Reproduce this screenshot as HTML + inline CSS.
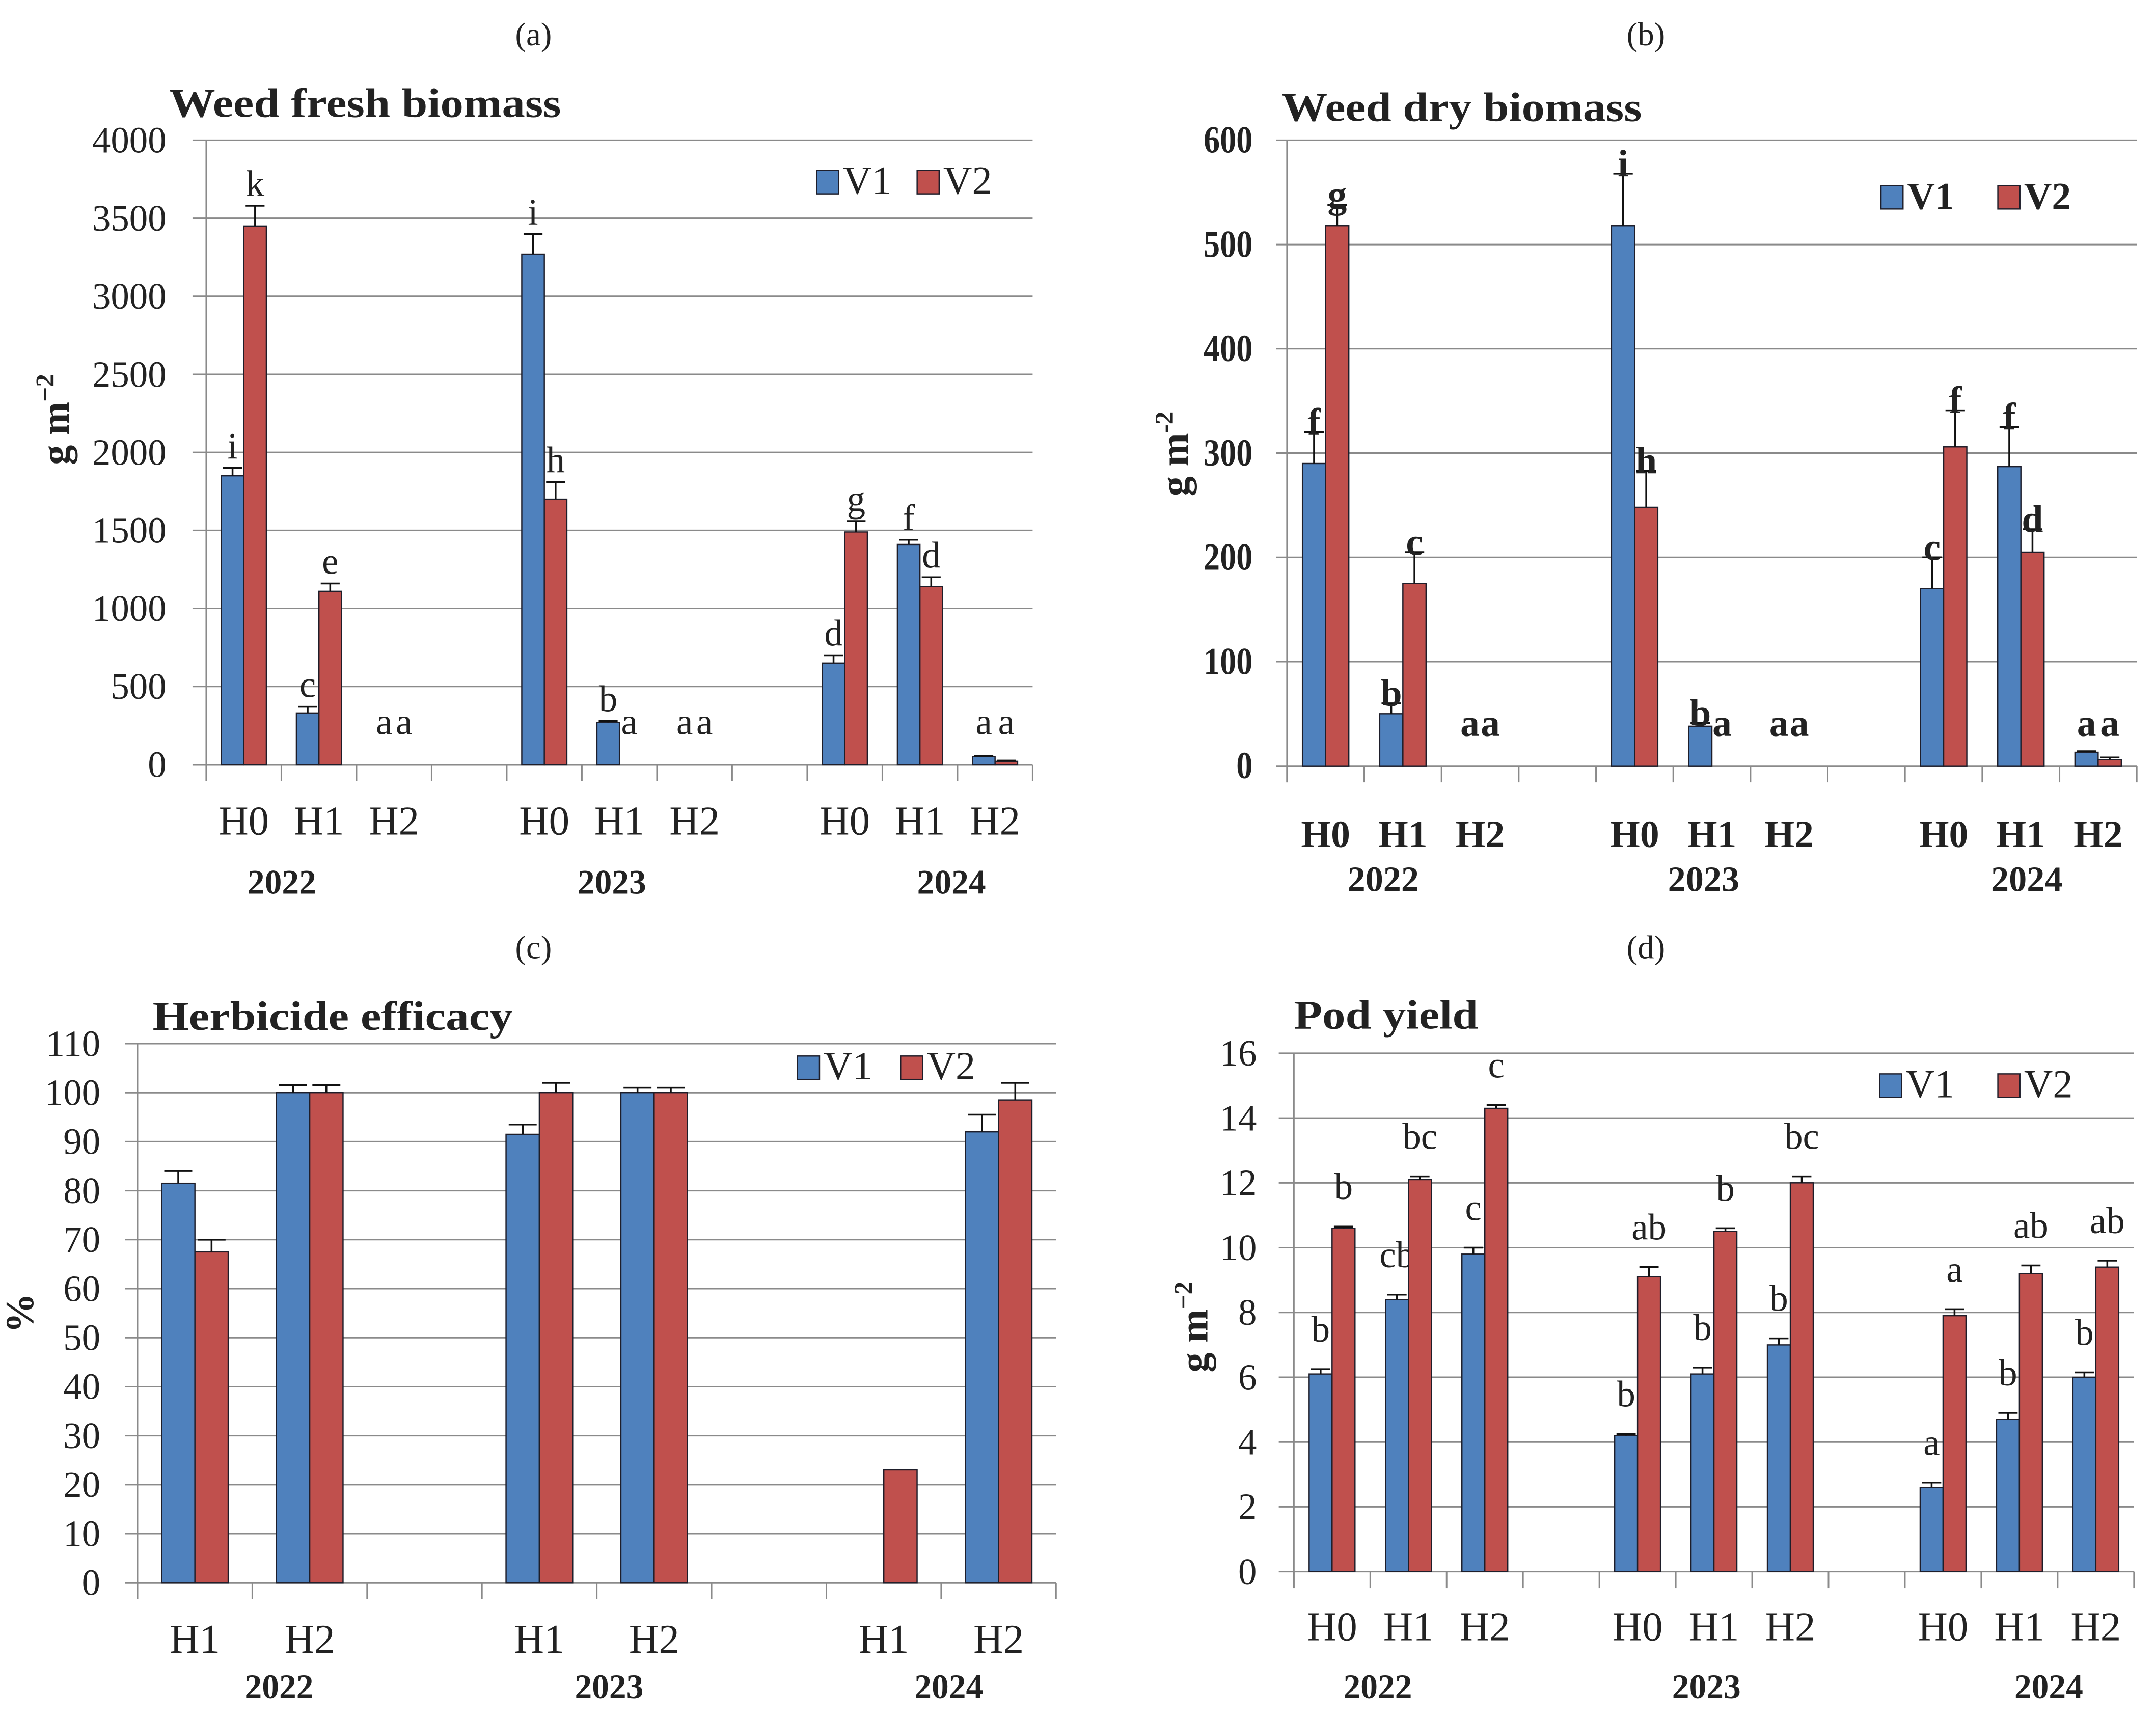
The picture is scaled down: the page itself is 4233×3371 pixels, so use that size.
<!DOCTYPE html>
<html><head><meta charset="utf-8">
<style>
html,body{margin:0;padding:0;background:#fff;}
svg{display:block;}
text{font-family:"Liberation Serif",serif;fill:#222;}
</style></head>
<body>
<svg id="fig" width="4233" height="3371" viewBox="0 0 1568 1248.7" preserveAspectRatio="none" xmlns="http://www.w3.org/2000/svg" font-family="Liberation Serif, serif"></svg>
<script>
// ---- Chart (a) Weed fresh biomass ----
const aCats = ["H0","H1","H2","","H0","H1","H2","","H0","H1","H2"];
const aYears = ["2022","2023","2024"];
const aV1 = [1850,330,0,null,3270,270,0,null,650,1410,50];
const aV2 = [3450,1110,0,null,1700,0,0,null,1490,1140,20];
const aE1 = [50,40,0,null,130,10,0,null,50,30,5];
const aE2 = [130,50,0,null,110,0,0,null,70,60,5];
const aL1 = ["i","c","a","","i","b","a","","d","f","a"];
const aL2 = ["k","e","a","","h","a","a","","g","d","a"];
const aTicks = [0,500,1000,1500,2000,2500,3000,3500,4000];
// ---- Chart (b) Weed dry biomass ----
const bCats = ["H0","H1","H2","","H0","H1","H2","","H0","H1","H2"];
const bYears = ["2022","2023","2024"];
const bV1 = [290,50,0,null,518,38,0,null,170,287,13];
const bV2 = [518,175,0,null,248,0,0,null,306,205,6];
const bE1 = [30,10,0,null,50,3,0,null,30,38,1];
const bE2 = [20,30,0,null,35,0,0,null,35,22,2];
const bL1 = ["f","b","a","","i","b","a","","c","f","a"];
const bL2 = ["g","c","a","","h","a","a","","f","d","a"];
const bTicks = [0,100,200,300,400,500,600];
// ---- Chart (c) Herbicide efficacy ----
const cCats = ["H1","H2","","H1","H2","","H1","H2"];
const cYears = ["2022","2023","2024"];
const cV1 = [81.5,100,null,91.5,100,null,0,92];
const cV2 = [67.5,100,null,100,100,null,23,98.5];
const cE1 = [2.5,1.5,null,2,1,null,0,3.5];
const cE2 = [2.5,1.5,null,2,1,null,0,3.5];
const cTicks = [0,10,20,30,40,50,60,70,80,90,100,110];
// ---- Chart (d) Pod yield ----
const dCats = ["H0","H1","H2","","H0","H1","H2","","H0","H1","H2"];
const dYears = ["2022","2023","2024"];
const dV1 = [6.1,8.4,9.8,null,4.2,6.1,7.0,null,2.6,4.7,6.0];
const dV2 = [10.6,12.1,14.3,null,9.1,10.5,12.0,null,7.9,9.2,9.4];
const dE1 = [0.15,0.15,0.2,null,0.05,0.2,0.2,null,0.15,0.2,0.15];
const dE2 = [0.05,0.1,0.1,null,0.3,0.1,0.2,null,0.2,0.25,0.2];
const dL1 = ["b","cb","c","","b","b","b","","a","b","b"];
const dL2 = ["b","bc","c","","ab","b","bc","","a","ab","ab"];
const dTicks = [0,2,4,6,8,10,12,14,16];

const NS="http://www.w3.org/2000/svg";
const svg=document.getElementById('fig');
function mk(tag,attrs,parent,txt){const e=document.createElementNS(NS,tag);for(const k in attrs)e.setAttribute(k,attrs[k]);if(txt!==undefined)e.textContent=txt;(parent||svg).appendChild(e);return e;}

function drawChart(c){
  const g=mk('g',{});
  
  
  const ymax=c.ticks[c.ticks.length-1];
  const Y=v=>c.y0-(v/ymax)*(c.y0-c.yTop);
  const n=c.cats.length;
  const slot=(c.xEnd-c.x0)/n;
  const X=i=>c.x0+slot*(i+0.5);
  const fw=c.bold?'bold':'normal';
  const pl=mk('text',{x:c.panelX,y:c.panelY,'text-anchor':'middle','font-size':24},g,c.panel);
  
  
  const t=mk('text',{x:c.titleX,y:c.titleY,'font-size':30,'font-weight':'bold',textLength:c.titleLen,lengthAdjust:'spacingAndGlyphs'},g,c.title);
  
  
  c.ticks.forEach(v=>{
    const gl=mk('line',{x1:c.gridStart,x2:c.xEnd,y1:Y(v),y2:Y(v),stroke:'#8a8a8a','stroke-width':1.1},g);
    
    
    const tl=mk('text',{x:c.tickRight,y:Y(v)+9,'text-anchor':'end','font-size':c.bold?28:27,'font-weight':fw},g,String(v));
    if(c.bold){tl.setAttribute('transform',`translate(${c.tickRight},0) scale(0.85,1) translate(${-c.tickRight},0)`);}
    
    
  });
  const ax=mk('line',{x1:c.x0,x2:c.x0,y1:c.yTop,y2:c.y0+12,stroke:'#8a8a8a','stroke-width':1.1},g);
  
  
  for(let i=0;i<=n;i++){
    const tk=mk('line',{x1:c.x0+slot*i,x2:c.x0+slot*i,y1:c.y0,y2:c.y0+12,stroke:'#8a8a8a','stroke-width':1.1},g);
    
    
  }
  const bw=slot*c.barFrac;
  const series=[[c.v1,c.e1,c.l1,'#4F81BD','v1'],[c.v2,c.e2,c.l2,'#C0504D','v2']];
  series.forEach((s,si)=>{
    const [vals,errs,labs,col,nm]=s;
    vals.forEach((v,i)=>{
      if(v===null)return;
      const bx=X(i)+(si===0?-bw:0);
      if(v>0){
        const r=mk('rect',{x:bx,y:Y(v),width:bw,height:c.y0-Y(v),fill:col,stroke:'#1e1e2a','stroke-width':0.9},g);
        
        
        const e=errs[i]||0;
        if(e>0){
          const cx=bx+bw/2;
          const el=mk('path',{d:`M${cx},${Y(v)} V${Y(v+e)} M${cx-bw*0.42},${Y(v+e)} H${cx+bw*0.42}`,stroke:'#111','stroke-width':1.3,fill:'none'},g);
          
          
        }
      }
      if(labs&&labs[i]){
        const top=Y(v+(errs[i]||0));
        const ly=Math.min(top-c.letterOff,c.y0-c.zeroLetter);
        const zero=(v===0);
        const lx=bx+bw/2+(zero?(si===0?bw*0.06:-bw*0.06):0);
        const lt=mk('text',{x:lx,y:ly,'text-anchor':'middle','font-size':c.bold?28:27,'font-weight':fw},g,labs[i]);
        
        
      }
    });
  });
  c.cats.forEach((cat,i)=>{
    if(!cat)return;
    const cl=mk('text',{x:X(i),y:c.catY,'text-anchor':'middle','font-size':c.bold?28:30,'font-weight':fw},g,cat);
    
    
  });
  c.years.forEach((yr,i)=>{
    const yl=mk('text',{x:c.yearX[i],y:c.yearY,'text-anchor':'middle','font-size':c.bold?26:25,'font-weight':'bold'},g,yr);
    
    
  });
  const lg=mk('g',{},g);
  
  
  [['V1','#4F81BD',c.legX1],['V2','#C0504D',c.legX2]].forEach(l=>{
    const sq=mk('rect',{x:l[2],y:c.legY,width:16,height:17,fill:l[1],stroke:'#1e1e2a','stroke-width':0.9},lg);
    
    
    const lt=mk('text',{x:l[2]+19,y:c.legY+17,'font-size':c.bold?28:29,'font-weight':fw},lg,l[0]);
    
    
  });
  const yt=mk('text',{x:c.ytX,y:c.ytY,'text-anchor':'middle','font-size':29,'font-weight':'bold',transform:`rotate(-90 ${c.ytX} ${c.ytY})`},g);
  
  
  if(c.ytitle==='%'){yt.textContent='%';}
  else{
    mk('tspan',{},yt,'g m');
    mk('tspan',{dy:-11,'font-size':19},yt,c.bold?'-2':'\u22122');
  }
}

drawChart({id:'fresh',panel:'(a)',panelX:388,panelY:33,title:'Weed fresh biomass',titleX:123,titleY:85,titleLen:285,
  cats:aCats,years:aYears,v1:aV1,v2:aV2,e1:aE1,e2:aE2,l1:aL1,l2:aL2,ticks:aTicks,
  x0:150,xEnd:751,gridStart:140,yTop:102,y0:556,tickRight:121,barFrac:0.3,letterOff:7,zeroLetter:22,
  catY:607,yearX:[205,445,692],yearY:650,legX1:594,legX2:667,legY:124,ytX:50,ytY:305,ytitle:'g'});
drawChart({id:'dry',panel:'(b)',panelX:1197,panelY:33,title:'Weed dry biomass',titleX:932,titleY:88,titleLen:262,bold:true,
  cats:bCats,years:bYears,v1:bV1,v2:bV2,e1:bE1,e2:bE2,l1:bL1,l2:bL2,ticks:bTicks,
  x0:936,xEnd:1554,gridStart:928,yTop:102,y0:557,tickRight:911,barFrac:0.3,letterOff:-2,zeroLetter:22,
  catY:616,yearX:[1006,1239,1474],yearY:648,legX1:1368,legX2:1453,legY:135,ytX:864,ytY:330,ytitle:'g'});
drawChart({id:'efficacy',panel:'(c)',panelX:388,panelY:697,title:'Herbicide efficacy',titleX:111,titleY:749,titleLen:262,
  cats:cCats,years:cYears,v1:cV1,v2:cV2,e1:cE1,e2:cE2,l1:null,l2:null,ticks:cTicks,
  x0:100,xEnd:768,gridStart:91,yTop:759,y0:1151,tickRight:73,barFrac:0.29,letterOff:7,zeroLetter:22,
  catY:1202,yearX:[203,443,690],yearY:1235,legX1:580,legX2:655,legY:768,ytX:24,ytY:955,ytitle:'%'});
drawChart({id:'pod',panel:'(d)',panelX:1197,panelY:697,title:'Pod yield',titleX:941,titleY:748,titleLen:134,
  cats:dCats,years:dYears,v1:dV1,v2:dV2,e1:dE1,e2:dE2,l1:dL1,l2:dL2,ticks:dTicks,
  x0:941,xEnd:1552,gridStart:930,yTop:766,y0:1143,tickRight:914,barFrac:0.3,letterOff:20,zeroLetter:22,
  catY:1193,yearX:[1002,1241,1490],yearY:1235,legX1:1367,legX2:1453,legY:781,ytX:878,ytY:965,ytitle:'g'});
</script>
</body></html>
